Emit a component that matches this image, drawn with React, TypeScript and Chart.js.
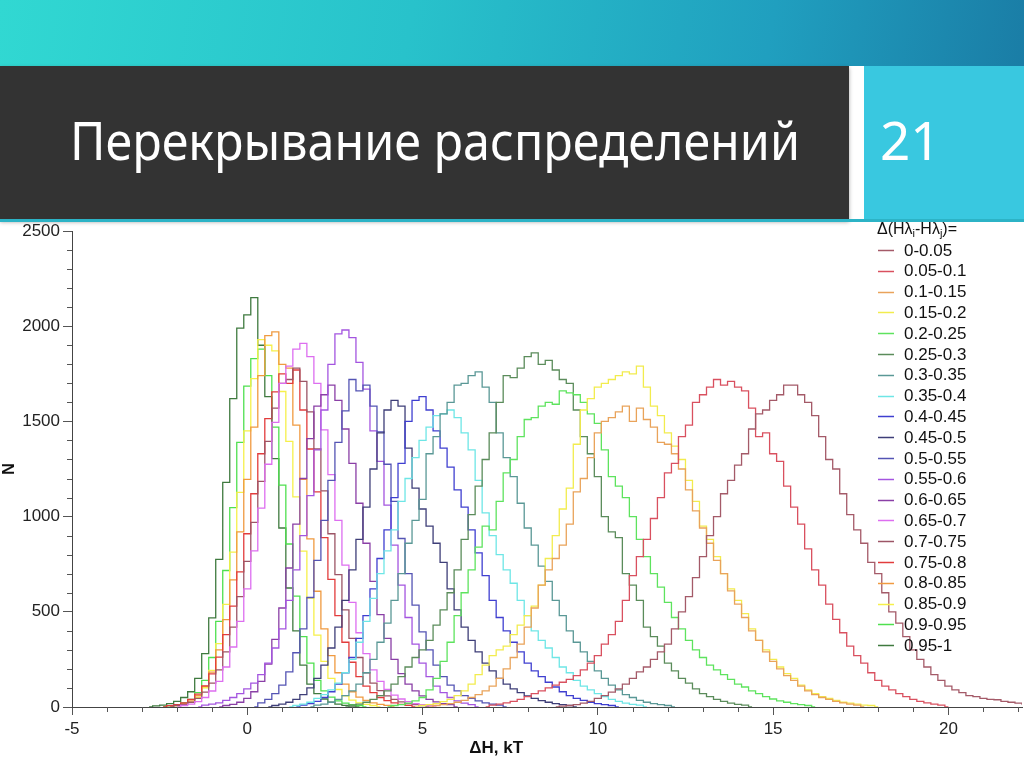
import React, { useEffect, useLayoutEffect, useRef } from 'react';
import { Chart, registerables } from 'chart.js';

Chart.register(...registerables);

// ---------- data ----------
const BIN = 0.2;
const X_MIN = -5;
const X_MAX = 22.1;
const Y_MAX = 2500;
const X_TICKS = [-5, 0, 5, 10, 15, 20];
const Y_TICKS = [0, 500, 1000, 1500, 2000, 2500];

const LABELS = [
  '0-0.05', '0.05-0.1', '0.1-0.15', '0.15-0.2', '0.2-0.25',
  '0.25-0.3', '0.3-0.35', '0.35-0.4', '0.4-0.45', '0.45-0.5',
  '0.5-0.55', '0.55-0.6', '0.6-0.65', '0.65-0.7', '0.7-0.75',
  '0.75-0.8', '0.8-0.85', '0.85-0.9', '0.9-0.95', '0.95-1',
];

// centre of the first bin of each histogram
const STARTS = [8.8, 6.8, 5.2, 4.8, 4.0, 2.8, 1.8, 1.2, 1.4, 0.6, 0.2, -1.4, -0.8, -2.0, -2.2, -2.4, -2.2, -2.2, -2.4, -2.8];

const h00_005 = [0, 5, 8, 12, 20, 30, 45, 60, 78, 95, 120, 150, 185, 210, 250, 290, 330, 410, 500, 580, 680, 790, 900, 1000, 1120, 1190, 1270, 1330, 1460, 1540, 1560, 1610, 1640, 1690, 1690, 1640, 1600, 1530, 1420, 1300, 1250, 1120, 1010, 930, 860, 760, 700, 600, 500, 440, 370, 300, 250, 210, 170, 140, 110, 90, 75, 60, 55, 45, 40, 38, 30, 25, 20, 15];
const h005_01 = [0, 10, 15, 22, 30, 40, 55, 70, 85, 100, 115, 130, 145, 165, 195, 230, 270, 330, 380, 450, 560, 690, 790, 880, 990, 1100, 1230, 1280, 1420, 1480, 1600, 1640, 1680, 1720, 1690, 1710, 1680, 1660, 1570, 1420, 1440, 1330, 1290, 1160, 1050, 960, 830, 720, 640, 540, 460, 390, 320, 270, 230, 180, 140, 110, 90, 70, 55, 40, 30, 22, 15, 10, 0];
const h01_015 = [0, 8, 12, 18, 25, 35, 50, 65, 85, 110, 150, 200, 260, 330, 420, 520, 640, 720, 780, 850, 960, 1130, 1200, 1310, 1440, 1500, 1520, 1550, 1580, 1500, 1570, 1510, 1470, 1390, 1380, 1330, 1250, 1140, 1030, 940, 860, 770, 700, 610, 540, 470, 400, 350, 290, 240, 200, 165, 140, 110, 85, 65, 50, 40, 30, 22, 15, 10, 0];
const h015_02 = [0, 8, 12, 18, 28, 40, 60, 85, 120, 170, 220, 270, 300, 320, 380, 430, 480, 530, 640, 780, 900, 1040, 1150, 1380, 1560, 1620, 1680, 1700, 1720, 1740, 1760, 1750, 1790, 1680, 1580, 1530, 1440, 1370, 1300, 1190, 1080, 950, 880, 790, 700, 620, 560, 490, 410, 350, 300, 250, 210, 175, 150, 115, 90, 70, 55, 45, 35, 25, 20, 15, 10, 8, 0];
const h02_025 = [0, 8, 12, 20, 32, 50, 90, 150, 240, 340, 480, 600, 720, 840, 950, 930, 1080, 1230, 1300, 1420, 1510, 1520, 1580, 1600, 1590, 1660, 1650, 1640, 1600, 1540, 1490, 1350, 1210, 1160, 1100, 1000, 880, 790, 700, 630, 550, 470, 410, 350, 300, 260, 220, 195, 170, 145, 120, 105, 85, 70, 55, 42, 32, 25, 18, 12, 8, 0];
const h025_03 = [0, 10, 15, 25, 40, 60, 85, 120, 160, 210, 260, 300, 350, 430, 510, 600, 720, 880, 1010, 1160, 1300, 1440, 1600, 1740, 1730, 1780, 1840, 1860, 1800, 1820, 1770, 1720, 1700, 1560, 1420, 1330, 1210, 1000, 920, 890, 700, 640, 560, 420, 370, 320, 230, 190, 150, 125, 95, 70, 55, 40, 30, 20, 14, 10, 0];
const h03_035 = [0, 10, 15, 25, 40, 60, 85, 120, 180, 250, 340, 440, 560, 700, 860, 980, 1090, 1330, 1420, 1540, 1600, 1690, 1700, 1740, 1760, 1680, 1600, 1440, 1310, 1210, 1070, 940, 850, 740, 660, 560, 480, 400, 340, 290, 240, 190, 150, 115, 90, 65, 50, 35, 25, 18, 12, 8, 0];
const h035_04 = [0, 8, 15, 25, 45, 65, 90, 125, 180, 250, 340, 450, 570, 700, 820, 930, 1080, 1200, 1310, 1400, 1470, 1530, 1540, 1560, 1520, 1440, 1350, 1190, 1020, 900, 800, 720, 650, 560, 480, 400, 350, 310, 260, 210, 180, 140, 110, 90, 70, 55, 40, 30, 20, 14, 10, 0];
const h04_045 = [0, 10, 18, 30, 50, 80, 120, 180, 260, 360, 480, 620, 780, 930, 1100, 1280, 1500, 1610, 1630, 1560, 1450, 1360, 1260, 1140, 1050, 930, 810, 690, 560, 470, 400, 340, 290, 230, 190, 160, 130, 105, 80, 60, 45, 35, 25, 18, 12, 8, 0];
const h045_05 = [0, 8, 15, 25, 40, 65, 100, 150, 220, 310, 420, 560, 720, 880, 1050, 1250, 1440, 1560, 1610, 1580, 1360, 1150, 1040, 950, 860, 760, 620, 510, 420, 350, 290, 230, 190, 150, 120, 95, 75, 58, 45, 34, 25, 18, 12, 8, 0];
const h05_055 = [0, 22, 40, 70, 115, 185, 285, 410, 575, 770, 980, 1190, 1390, 1555, 1720, 1660, 1690, 1580, 1445, 1275, 1080, 885, 700, 535, 395, 300, 220, 160, 115, 85, 60, 45, 32, 22, 15, 10, 0];
const h055_06 = [0, 10, 15, 22, 35, 50, 70, 95, 125, 170, 230, 310, 410, 560, 720, 900, 1110, 1350, 1560, 1800, 1960, 1980, 1940, 1810, 1670, 1450, 1290, 1060, 850, 640, 470, 330, 230, 160, 110, 75, 50, 32, 20, 12, 0];
const h06_065 = [0, 8, 14, 25, 45, 80, 135, 225, 355, 520, 730, 960, 1200, 1410, 1580, 1640, 1690, 1610, 1460, 1280, 1070, 860, 660, 485, 360, 250, 175, 120, 85, 58, 40, 27, 18, 12, 0];
const h065_07 = [0, 8, 15, 28, 50, 84, 135, 210, 315, 450, 620, 820, 1045, 1275, 1495, 1700, 1790, 1880, 1910, 1840, 1700, 1455, 1220, 980, 745, 550, 390, 280, 195, 135, 92, 62, 42, 28, 18, 12, 8, 0];
const h07_075 = [0, 8, 14, 25, 45, 78, 125, 195, 290, 420, 580, 765, 970, 1185, 1395, 1570, 1700, 1720, 1780, 1710, 1550, 1355, 1135, 910, 695, 510, 360, 260, 180, 125, 86, 58, 40, 27, 18, 12, 8, 0];
const h075_08 = [0, 7, 12, 22, 40, 68, 111, 174, 262, 380, 530, 710, 910, 1120, 1330, 1515, 1655, 1750, 1700, 1770, 1560, 1355, 1130, 890, 670, 480, 340, 235, 160, 110, 75, 50, 34, 22, 14, 9, 0];
const h08_085 = [0, 9, 17, 32, 59, 108, 183, 300, 459, 668, 920, 1195, 1470, 1740, 1950, 1970, 1800, 1780, 1480, 1195, 883, 608, 410, 270, 180, 120, 80, 52, 35, 22, 14, 9, 0];
const h085_09 = [0, 6, 12, 25, 49, 101, 192, 333, 539, 813, 1127, 1450, 1725, 1930, 1900, 1870, 1657, 1395, 1104, 819, 572, 377, 240, 150, 92, 58, 36, 22, 14, 8, 0];
const h09_095 = [0, 6, 12, 22, 40, 75, 140, 260, 450, 717, 1047, 1390, 1685, 1830, 1880, 1740, 1470, 1165, 856, 582, 370, 230, 140, 85, 52, 32, 20, 12, 8, 0];
const h095_1 = [0, 6, 10, 18, 30, 50, 80, 150, 280, 468, 775, 1180, 1620, 1990, 2060, 2150, 1900, 1630, 1305, 940, 625, 400, 220, 120, 70, 42, 25, 15, 9, 5, 0];

const SERIES = [
  h00_005, h005_01, h01_015, h015_02, h02_025, h025_03, h03_035, h035_04, h04_045, h045_05,
  h05_055, h055_06, h06_065, h065_07, h07_075, h075_08, h08_085, h085_09, h09_095, h095_1,
];

// ---------- styles ----------
const COLORS = [
  '#a45a68', '#d9505f', '#e9a35a', '#f2ec4e', '#5ee35e',
  '#5b8c5b', '#5a9896', '#6ee6e6', '#3f3fd0', '#3e3e78',
  '#5454b4', '#a455e0', '#8a3fa6', '#dd6ef0', '#9c5566',
  '#e23c3c', '#f09a40', '#f6f04a', '#4fe04f', '#3f7a3f',
];
const FONT = '"Liberation Sans", Arial, sans-serif';

const overlayPlugin = {
  id: 'overlay',
  afterDatasetsDraw(chart: any) {
    const ctx = chart.ctx as CanvasRenderingContext2D;
    const xs = chart.scales.x;
    const ys = chart.scales.y;
    const a = chart.chartArea;
    ctx.save();
    // minor ticks
    ctx.strokeStyle = '#555';
    ctx.lineWidth = 1;
    ctx.beginPath();
    for (let v = 0; v <= Y_MAX; v += 100) {
      if (v % 500 === 0) continue;
      const py = Math.round(ys.getPixelForValue(v)) + 0.5;
      ctx.moveTo(a.left - 5, py);
      ctx.lineTo(a.left, py);
    }
    for (let v = -5; v <= 22; v += 1) {
      if (v % 5 === 0) continue;
      const px = Math.round(xs.getPixelForValue(v)) + 0.5;
      ctx.moveTo(px, a.bottom);
      ctx.lineTo(px, a.bottom + 5);
    }
    ctx.stroke();

    // x axis title
    ctx.fillStyle = '#111';
    ctx.font = 'bold 17px ' + FONT;
    ctx.textAlign = 'center';
    ctx.textBaseline = 'middle';
    ctx.fillText('ΔH, kT', xs.getPixelForValue(7.1), a.bottom + 41);

    // legend
    const lx = a.right - 145;
    ctx.textAlign = 'left';
    let tx = lx;
    const ty = a.top - 1;
    const parts: [string, boolean][] = [['Δ(Hλ', false], ['i', true], ['-Hλ', false], ['j', true], [')=', false]];
    for (const [t, sub] of parts) {
      ctx.font = (sub ? '11px ' : '16px ') + FONT;
      ctx.fillText(t, tx, sub ? ty + 4 : ty);
      tx += ctx.measureText(t).width;
    }
    ctx.font = '17px ' + FONT;
    chart.data.datasets.forEach((ds: any, i: number) => {
      const y = a.top + 19 + i * 20.8;
      ctx.strokeStyle = ds.borderColor;
      ctx.lineWidth = 1.5;
      ctx.beginPath();
      ctx.moveTo(lx + 1, Math.round(y) + 0.5);
      ctx.lineTo(lx + 17, Math.round(y) + 0.5);
      ctx.stroke();
      ctx.fillStyle = '#111';
      ctx.fillText(ds.label, lx + 27, y + 1);
    });
    ctx.restore();
  },
};

function ChartView() {
  const ref = useRef<HTMLCanvasElement>(null);
  useEffect(() => {
    if (!ref.current) return;
    const datasets = SERIES.map((vals, i) => ({
      label: LABELS[i],
      data: vals.map((v, k) => ({ x: +(STARTS[i] + k * BIN).toFixed(2), y: v })),
      borderColor: COLORS[i],
      backgroundColor: COLORS[i],
      borderWidth: 1.3,
      pointRadius: 0,
      fill: false,
      stepped: 'middle' as const,
      tension: 0,
    }));
    const chart = new Chart(ref.current, {
      type: 'line',
      data: { datasets },
      options: {
        animation: false,
        responsive: false,
        devicePixelRatio: 1,
        layout: { padding: { top: 9, right: 2, left: 0, bottom: 0 } },
        plugins: { legend: { display: false }, tooltip: { enabled: false } },
        scales: {
          x: {
            type: 'linear',
            min: X_MIN,
            max: X_MAX,
            afterBuildTicks: (s: any) => { s.ticks = X_TICKS.map((v) => ({ value: v })); },
            afterFit: (s: any) => { s.height = 60; s.paddingLeft = 0; s.paddingRight = 0; },
            grid: { display: true, drawOnChartArea: false, drawTicks: true, tickLength: 8, tickColor: '#555' },
            border: { display: true, color: '#444', width: 1 },
            ticks: { color: '#222', font: { family: FONT, size: 17 }, padding: 4, maxRotation: 0, callback: (v: any) => String(v) },
          },
          y: {
            type: 'linear',
            min: 0,
            max: Y_MAX,
            afterBuildTicks: (s: any) => { s.ticks = Y_TICKS.map((v) => ({ value: v })); },
            afterFit: (s: any) => { s.width = 72; s.paddingTop = 0; s.paddingBottom = 0; },
            grid: { display: true, drawOnChartArea: false, drawTicks: true, tickLength: 9, tickColor: '#555' },
            border: { display: true, color: '#444', width: 1 },
            ticks: { color: '#222', font: { family: FONT, size: 17 }, padding: 3, callback: (v: any) => String(v) },
            title: { display: true, text: 'N', color: '#111', font: { family: FONT, size: 16, weight: 'bold' }, padding: 0 },
          },
        },
      },
      plugins: [overlayPlugin],
    } as any);
    return () => chart.destroy();
  }, []);
  return <canvas ref={ref} width={1024} height={545} style={{ display: 'block', width: 1024, height: 545 }} />;
}

export default function App() {
  const titleRef = useRef<HTMLSpanElement>(null);
  useLayoutEffect(() => {
    document.body.style.margin = '0';
    const el = titleRef.current;
    if (!el) return;
    el.style.transform = 'none';
    const w = el.getBoundingClientRect().width;
    if (w > 0) el.style.transform = `scaleX(${730 / w})`;
  }, []);
  const headFont = '"Noto Sans", "Open Sans", sans-serif';
  return (
    <div style={{ position: 'fixed', left: 0, top: 0, width: 1024, height: 767, background: '#fff', overflow: 'hidden' }}>
      <div style={{ position: 'absolute', left: 0, top: 0, width: 1024, height: 66, background: 'linear-gradient(100deg, #31d8d2 0%, #28c2cb 40%, #209fbf 75%, #1a7da6 100%)' }} />
      <div style={{ position: 'absolute', left: 0, top: 66, width: 849, height: 154, background: '#333333', boxShadow: '0 2px 4px rgba(0,0,0,0.35)' }} />
      <div style={{ position: 'absolute', left: 864, top: 66, width: 160, height: 154, background: '#39c8e0' }} />
      <div style={{ position: 'absolute', left: 0, top: 219, width: 1024, height: 3, background: '#2cb3c6' }} />
      <span ref={titleRef} style={{ position: 'absolute', left: 70, top: 113, fontFamily: headFont, fontSize: 53, lineHeight: '53px', color: '#fff', whiteSpace: 'nowrap', transformOrigin: 'left center' }}>
        Перекрывание распределений
      </span>
      <span style={{ position: 'absolute', left: 880, top: 113, fontFamily: headFont, fontSize: 53, lineHeight: '53px', color: '#fff', whiteSpace: 'nowrap' }}>
        21
      </span>
      <div style={{ position: 'absolute', left: 0, top: 222, width: 1024, height: 545 }}>
        <ChartView />
      </div>
    </div>
  );
}
